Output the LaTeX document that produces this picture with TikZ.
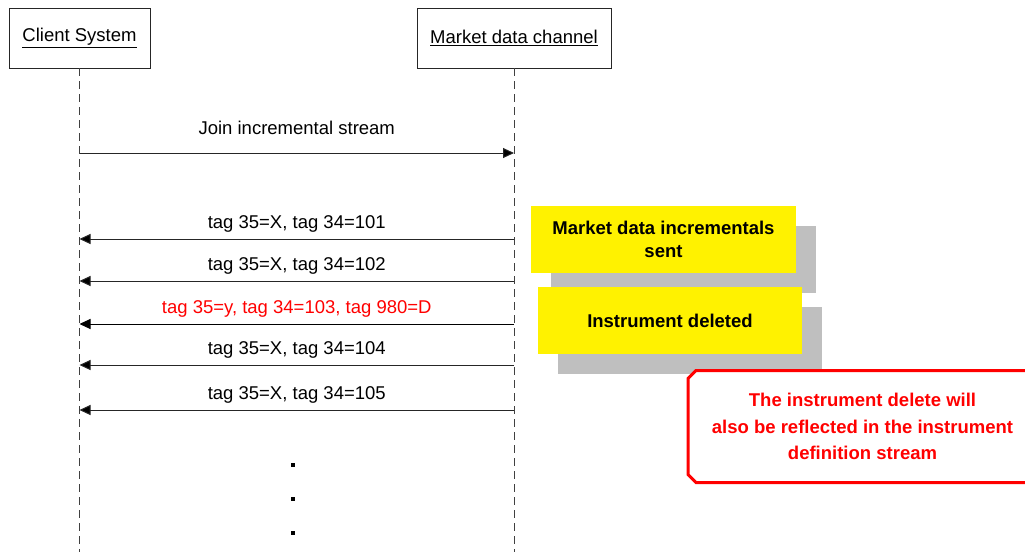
\documentclass[tikz,border=0pt]{standalone}
\usepackage{fontspec}
\setmainfont{Liberation Sans}
\usetikzlibrary{arrows.meta,shapes.misc,backgrounds}

\tikzset{
  actor/.style={draw=black!85, line width=0.8pt, minimum height=60, inner sep=0,
    font=\fontsize{18.5}{22}\selectfont},
  life/.style={draw=black!75, line width=1pt, dash pattern=on 8pt off 5pt},
  msg/.style={draw=black!85, line width=1pt, -{Triangle[length=11pt,width=10pt,fill=black]}},
  lbl/.style={font=\fontsize{18.5}{22}\selectfont, inner sep=0, anchor=base, yshift=10.7pt},
  dot/.style={fill=black, minimum size=4.5, inner sep=0},
  note/.style={fill=yellow, minimum width=265, minimum height=67, align=center,
    font=\bfseries\fontsize{18.5}{23.5}\selectfont},
  shadowbox/.style={fill=black!25},
  warn/.style={chamfered rectangle, chamfered rectangle xsep=4pt, chamfered rectangle ysep=4pt,
    draw=red, line width=3pt, fill=white, text=red, align=center,
    minimum width=349, minimum height=112,
    font=\bfseries\fontsize{18.5}{26.3}\selectfont}
}

\begin{document}
\begin{tikzpicture}[x=1pt,y=-1pt]
\useasboundingbox (0,0) rectangle (1025,552);

% actors and lifelines
\node[actor, minimum width=141] (client) at (79.5,38) {\underline{Client System}};
\node[actor, minimum width=194] (market) at (514,38) {\underline{Market data channel}};
\coordinate (clientend) at (79.5,552);
\coordinate (marketend) at (514,552);
\draw[life] (client.south) -- (clientend);
\draw[life] (market.south) -- (marketend);

% join request
\coordinate (cjoin) at (client |- 0,153);
\coordinate (mjoin) at (market |- 0,153);
\draw[msg] (cjoin) -- node[lbl, yshift=7.8pt] (joinlbl) {Join incremental stream} (mjoin);

% incrementals
\coordinate (c1) at (client |- 0,239);  \coordinate (m1) at (market |- 0,239);
\coordinate (c2) at (client |- 0,281);  \coordinate (m2) at (market |- 0,281);
\coordinate (c3) at (client |- 0,324);  \coordinate (m3) at (market |- 0,324);
\coordinate (c4) at (client |- 0,365);  \coordinate (m4) at (market |- 0,365);
\coordinate (c5) at (client |- 0,410);  \coordinate (m5) at (market |- 0,410);
\draw[msg] (m1) -- node[lbl] (lbl1) {tag 35=X, tag 34=101} (c1);
\draw[msg] (m2) -- node[lbl] (lbl2) {tag 35=X, tag 34=102} (c2);
\draw[msg, draw=black] (m3) -- node[lbl, text=red] (lbl3) {tag 35=y, tag 34=103, tag 980=D} (c3);
\draw[msg] (m4) -- node[lbl] (lbl4) {tag 35=X, tag 34=104} (c4);
\draw[msg] (m5) -- node[lbl] (lbl5) {tag 35=X, tag 34=105} (c5);

\foreach \yy [count=\i] in {465,499,533}
  \node[dot] (dot\i) at (293,\yy) {};

% notes
\node[note] (incnote) at (663.5,239.5) {Market data incrementals\\sent};
\node[note, minimum width=264] (delnote) at (670,320.5) {Instrument deleted};
\begin{scope}[on background layer]
  \fill[shadowbox] ([shift={(20,20)}]incnote.north west) rectangle ([shift={(20,20)}]incnote.south east);
  \fill[shadowbox] ([shift={(20,20)}]delnote.north west) rectangle ([shift={(20,20)}]delnote.south east);
\end{scope}
\node[warn] (warnnote) at (862.5,426.5) {The instrument delete will\\also be reflected in the instrument\\definition stream};
\end{tikzpicture}
\end{document}
